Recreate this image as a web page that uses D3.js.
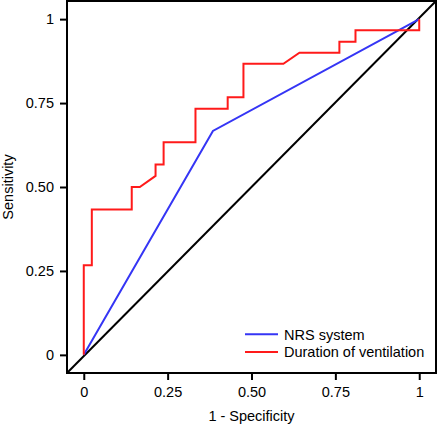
<!DOCTYPE html>
<html>
<head>
<meta charset="utf-8">
<script src="https://cdn.jsdelivr.net/npm/d3@7"></script>
<style>
html,body{margin:0;padding:0;background:#fff;}
svg{display:block;font-family:"Liberation Sans",Arial,sans-serif;}
</style>
</head>
<body>
<svg id="c" width="440" height="426"></svg>
<script>
const xTicks = [0, 0.25, 0.5, 0.75, 1];
const xTickLabels = ["0", "0.25", "0.50", "0.75", "1"];
const yTicks = [0, 0.25, 0.5, 0.75, 1];
const yTickLabels = ["0", "0.25", "0.50", "0.75", "1"];
const seriesNames = ["NRS system", "Duration of ventilation"];
const seriesColors = ["#3535f5", "#ff1a1a"];
const nrsFpr = [0, 0.385, 1];
const nrsSens = [0, 0.667, 1];
const durFpr = [0, 0, 0.024, 0.024, 0.143, 0.143, 0.167, 0.214, 0.214, 0.238, 0.238, 0.333, 0.333, 0.429, 0.429, 0.476, 0.476, 0.595, 0.643, 0.762, 0.762, 0.810, 0.810, 1, 1];
const durSens = [0, 0.267, 0.267, 0.433, 0.433, 0.5, 0.5, 0.533, 0.567, 0.567, 0.633, 0.633, 0.733, 0.733, 0.767, 0.767, 0.867, 0.867, 0.9, 0.9, 0.933, 0.933, 0.967, 0.967, 1];

const FS = 14.5;
const svg = d3.select("#c");
const L = 67, R = 436, T = 1, B = 373;
const xd = [-0.05, 1.05], yd = [-0.054, 1.054];
const x = d3.scaleLinear().domain(xd).range([L, R]);
const y = d3.scaleLinear().domain(yd).range([B, T]);

const line = d3.line().x(d => x(d[0])).y(d => y(d[1]));

// diagonal reference
svg.append("path")
  .attr("d", line([[xd[0], yd[0]], [xd[1], yd[1]]]))
  .attr("fill", "none").attr("stroke", "#000").attr("stroke-width", 2);

const series = [
  d3.zip(nrsFpr, nrsSens),
  d3.zip(durFpr, durSens)
];
series.forEach((s, i) => {
  svg.append("path").attr("d", line(s))
    .attr("fill", "none").attr("stroke", seriesColors[i])
    .attr("stroke-width", 2).attr("stroke-linejoin", "miter");
});

// frame
svg.append("rect").attr("x", L).attr("y", T).attr("width", R - L).attr("height", B - T)
  .attr("fill", "none").attr("stroke", "#000").attr("stroke-width", 2);

// axes
const xAxis = d3.axisBottom(x).tickValues(xTicks).tickFormat((d, i) => xTickLabels[i]).tickSize(7).tickPadding(7);
const gx = svg.append("g").attr("transform", `translate(0,${B})`).call(xAxis);
gx.select(".domain").remove();
gx.selectAll("line").attr("stroke", "#000").attr("stroke-width", 2);
gx.selectAll("text").attr("font-size", FS).attr("fill", "#000").attr("font-family", "Liberation Sans, Arial, sans-serif");

const yAxis = d3.axisLeft(y).tickValues(yTicks).tickFormat((d, i) => yTickLabels[i]).tickSize(7).tickPadding(6);
const gy = svg.append("g").attr("transform", `translate(${L},0)`).call(yAxis);
gy.select(".domain").remove();
gy.selectAll("line").attr("stroke", "#000").attr("stroke-width", 2);
gy.selectAll("text").attr("font-size", FS).attr("fill", "#000").attr("font-family", "Liberation Sans, Arial, sans-serif");

// axis titles
svg.append("text").attr("x", x(0.5)).attr("y", 420.5).attr("text-anchor", "middle")
  .attr("font-size", FS).text("1 - Specificity");
svg.append("text").attr("transform", `translate(13,${y(0.5)}) rotate(-90)`).attr("text-anchor", "middle")
  .attr("font-size", FS).text("Sensitivity");

// legend
const lg = svg.append("g");
seriesNames.forEach((n, i) => {
  const yy = 334.3 + i * 17.7;
  lg.append("line").attr("x1", 245).attr("x2", 278).attr("y1", yy).attr("y2", yy)
    .attr("stroke", seriesColors[i]).attr("stroke-width", 2);
  lg.append("text").attr("x", 284).attr("y", yy + 5.2).attr("font-size", FS).text(n);
});
</script>
</body>
</html>
